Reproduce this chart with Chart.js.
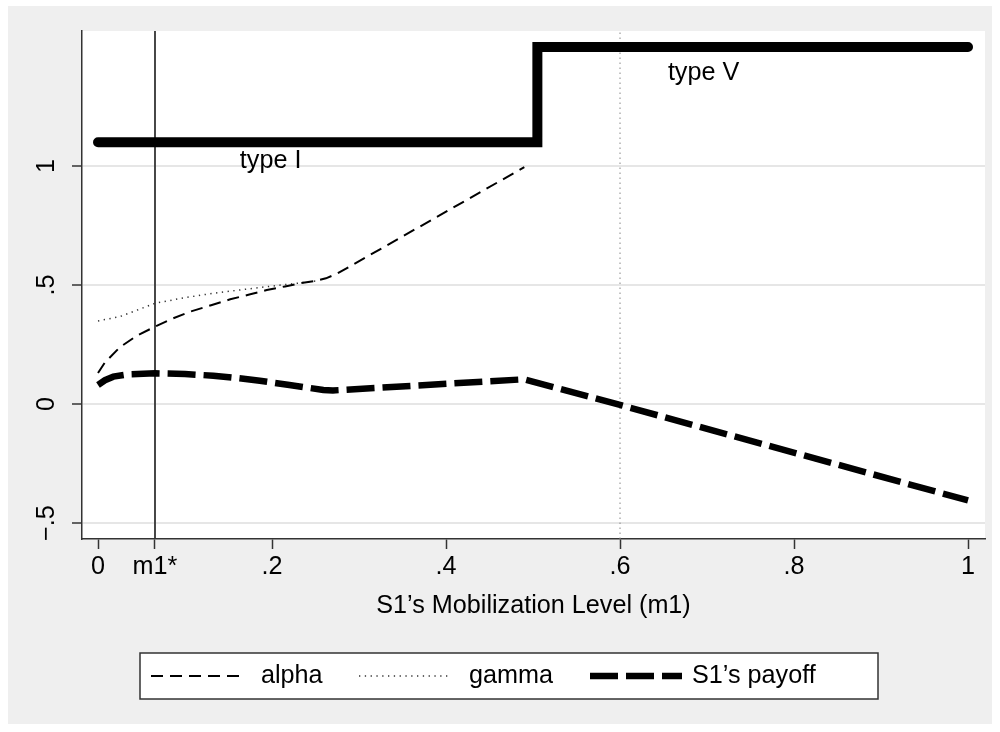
<!DOCTYPE html>
<html>
<head>
<meta charset="utf-8">
<script src="https://cdn.jsdelivr.net/npm/chart.js@4.4.1/dist/chart.umd.min.js"></script>
<style>
  body { margin: 0; background: #fff; }
  canvas { display: block; }
</style>
</head>
<body>
<canvas id="chart" width="1000" height="732"></canvas>
<script>
// ---- values ----
const m1Star = 0.0655;

const alphaX = [0, 0.008, 0.025, 0.045, 0.0655, 0.085, 0.106, 0.13, 0.152, 0.175, 0.194, 0.215, 0.232, 0.249, 0.262, 0.275, 0.49];
const alphaY = [0.13, 0.175, 0.238, 0.288, 0.325, 0.358, 0.388, 0.415, 0.44, 0.461, 0.479, 0.494, 0.507, 0.517, 0.528, 0.548, 0.995];

const gammaX = [0, 0.025, 0.0655, 0.1, 0.132, 0.165, 0.194, 0.228, 0.25];
const gammaY = [0.349, 0.367, 0.423, 0.447, 0.465, 0.48, 0.493, 0.507, 0.517];

const payoffX = [0, 0.008, 0.0176, 0.035, 0.0655, 0.1, 0.1326, 0.16, 0.186, 0.22, 0.259, 0.27, 0.49, 0.6, 1];
const payoffY = [0.08, 0.1, 0.115, 0.125, 0.129, 0.126, 0.119, 0.109, 0.098, 0.08, 0.059, 0.057, 0.104, -0.004, -0.405];

// regime line (type I -> type V)
const typeX = [0, 0.505, 0.505, 1];
const typeY = [1.1, 1.1, 1.5, 1.5];

const typeLabels = ['type I', 'type V'];
const typeLabelX = [0.163, 0.655];
const typeLabelY = [1.02, 1.39];

const xTickValues = [0, m1Star, 0.2, 0.4, 0.6, 0.8, 1];
const xTickLabels = ['0', 'm1*', '.2', '.4', '.6', '.8', '1'];
const yTickValues = [-0.5, 0, 0.5, 1];
const yTickLabels = ['\u2212.5', '0', '.5', '1'];

const xMin = -0.0184, xMax = 1.0195;
const yMin = -0.567, yMax = 1.567;

const FONT = '"Liberation Sans", Arial, Helvetica, sans-serif';
const FONT_SIZE = 25.2;

function toPoints(xs, ys) {
  return xs.map((x, i) => ({ x: x, y: ys[i] }));
}

// Stata-like grey background with white plot region
const backgroundPlugin = {
  id: 'background',
  beforeDraw(chart) {
    const { ctx, chartArea } = chart;
    ctx.save();
    ctx.fillStyle = '#efefef';
    ctx.fillRect(8, 6, 984, 718);
    ctx.fillStyle = '#ffffff';
    ctx.fillRect(chartArea.left, chartArea.top, chartArea.right - chartArea.left, chartArea.bottom - chartArea.top);
    ctx.restore();
  }
};

// "type I" / "type V" text
const typeTextPlugin = {
  id: 'typeText',
  afterDatasetsDraw(chart) {
    const { ctx, scales } = chart;
    ctx.save();
    ctx.font = FONT_SIZE + 'px ' + FONT;
    ctx.fillStyle = '#000';
    ctx.textAlign = 'left';
    ctx.textBaseline = 'middle';
    typeLabels.forEach((t, i) => {
      ctx.fillText(t, scales.x.getPixelForValue(typeLabelX[i]), scales.y.getPixelForValue(typeLabelY[i]));
    });
    ctx.restore();
  }
};

// boxed legend under the axis title
const legendPlugin = {
  id: 'boxLegend',
  afterDraw(chart) {
    const { ctx } = chart;
    const box = { left: 140, top: 653, width: 738, height: 46 };
    const items = [
      { ds: 0, x0: 151, len: 94, tx: 261 },
      { ds: 1, x0: 359, len: 90, tx: 469 },
      { ds: 2, x0: 590, len: 92, tx: 692 }
    ];
    const cy = box.top + box.height / 2;
    ctx.save();
    ctx.fillStyle = '#fff';
    ctx.fillRect(box.left, box.top, box.width, box.height);
    ctx.strokeStyle = '#333';
    ctx.lineWidth = 1.5;
    ctx.strokeRect(box.left, box.top, box.width, box.height);
    items.forEach(it => {
      const ds = chart.data.datasets[it.ds];
      ctx.beginPath();
      ctx.setLineDash(ds.borderDash || []);
      ctx.lineWidth = ds.borderWidth;
      ctx.strokeStyle = ds.borderColor;
      ctx.lineCap = 'butt';
      ctx.moveTo(it.x0, cy);
      ctx.lineTo(it.x0 + it.len, cy);
      ctx.stroke();
      ctx.setLineDash([]);
      ctx.font = FONT_SIZE + 'px ' + FONT;
      ctx.fillStyle = '#000';
      ctx.textAlign = 'left';
      ctx.textBaseline = 'middle';
      ctx.fillText(ds.label, it.tx, cy);
    });
    ctx.restore();
  }
};

new Chart(document.getElementById('chart').getContext('2d'), {
  type: 'scatter',
  data: {
    datasets: [
      {
        label: 'alpha',
        data: toPoints(alphaX, alphaY),
        showLine: true,
        borderColor: '#000',
        borderWidth: 2,
        borderDash: [12, 7],
        pointRadius: 0,
        fill: false
      },
      {
        label: 'gamma',
        data: toPoints(gammaX, gammaY),
        showLine: true,
        borderColor: '#333',
        borderWidth: 1.5,
        borderDash: [1.3, 4.5],
        pointRadius: 0,
        fill: false
      },
      {
        label: 'S1\u2019s payoff',
        data: toPoints(payoffX, payoffY),
        showLine: true,
        borderColor: '#000',
        borderWidth: 6.5,
        borderDash: [28, 8],
        pointRadius: 0,
        fill: false
      },
      {
        label: 'type',
        data: toPoints(typeX, typeY),
        showLine: true,
        borderColor: '#000',
        borderWidth: 10,
        borderCapStyle: 'round',
        borderJoinStyle: 'miter',
        pointRadius: 0,
        fill: false
      },
      {
        label: 'm1*',
        data: [{ x: m1Star, y: yMin }, { x: m1Star, y: yMax }],
        showLine: true,
        borderColor: '#333',
        borderWidth: 1.8,
        pointRadius: 0,
        fill: false
      },
      {
        label: 'm1 = .6',
        data: [{ x: 0.6, y: yMin }, { x: 0.6, y: yMax }],
        showLine: true,
        borderColor: '#888',
        borderWidth: 1,
        borderDash: [1.5, 3.5],
        pointRadius: 0,
        fill: false
      }
    ]
  },
  options: {
    responsive: false,
    animation: false,
    layout: { padding: { left: 8, top: 31, right: 15, bottom: 103 } },
    plugins: {
      legend: { display: false },
      tooltip: { enabled: false }
    },
    scales: {
      x: {
        type: 'linear',
        min: xMin,
        max: xMax,
        afterBuildTicks: scale => { scale.ticks = xTickValues.map(v => ({ value: v })); },
        afterFit: scale => { scale.height = 90; },
        ticks: {
          autoSkip: false,
          maxRotation: 0,
          padding: 3,
          color: '#000',
          font: { family: FONT, size: FONT_SIZE },
          callback: (v, i) => xTickLabels[i]
        },
        grid: { drawOnChartArea: false, tickLength: 10, tickColor: '#333', tickWidth: 1.5 },
        border: { display: true, color: '#333', width: 1.5 },
        title: {
          display: true,
          text: 'S1\u2019s Mobilization Level (m1)',
          color: '#000',
          font: { family: FONT, size: FONT_SIZE },
          padding: { top: 0, bottom: 8 }
        }
      },
      y: {
        type: 'linear',
        min: yMin,
        max: yMax,
        afterBuildTicks: scale => { scale.ticks = yTickValues.map(v => ({ value: v })); },
        afterFit: scale => { scale.width = 74; },
        ticks: {
          autoSkip: false,
          minRotation: 90,
          maxRotation: 90,
          crossAlign: 'center',
          padding: 7,
          color: '#000',
          font: { family: FONT, size: FONT_SIZE },
          callback: (v, i) => yTickLabels[i]
        },
        grid: { color: '#e6e6e6', lineWidth: 2, tickLength: 10, tickColor: '#333', tickWidth: 1.5 },
        border: { display: true, color: '#333', width: 1.5 }
      }
    }
  },
  plugins: [backgroundPlugin, typeTextPlugin, legendPlugin]
});
</script>
</body>
</html>
